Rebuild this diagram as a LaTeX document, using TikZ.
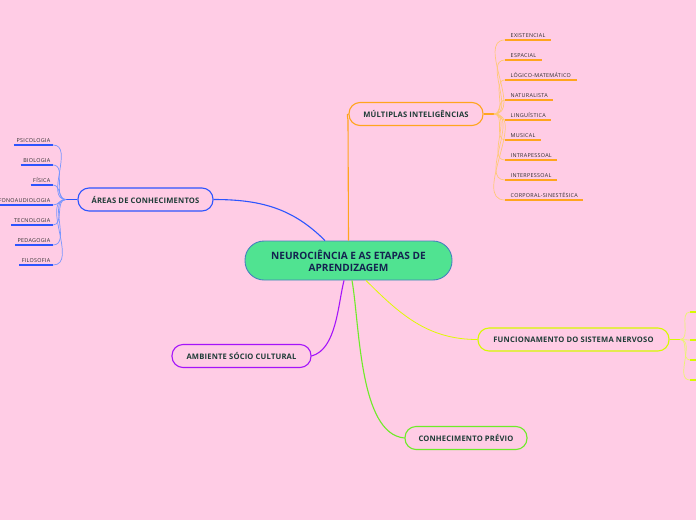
\documentclass[tikz,border=0pt]{standalone}
\usepackage{fontspec}
\setmainfont{Open Sans}
\newfontfamily\leaffont[LetterSpace=5.5]{Open Sans}
\newfontfamily\topicfont[LetterSpace=2.5]{Open Sans}
\usetikzlibrary{positioning}
\definecolor{MapPink}{RGB}{255,204,229}
\definecolor{CoreGreen}{RGB}{80,227,145}
\definecolor{CoreEdge}{RGB}{70,130,190}
\definecolor{CoreInk}{RGB}{20,35,80}
\definecolor{TopicInk}{RGB}{30,60,55}
\definecolor{LeafInk}{RGB}{45,45,45}
\definecolor{AreaBlue}{RGB}{45,85,255}
\definecolor{AreaSoft}{RGB}{120,150,255}
\definecolor{MultOrange}{RGB}{255,165,30}
\definecolor{MultSoft}{RGB}{255,200,120}
\definecolor{NervLime}{RGB}{215,250,0}
\definecolor{NervSoft}{RGB}{235,245,110}
\definecolor{AmbPurple}{RGB}{165,20,250}
\definecolor{PrevGreen}{RGB}{110,235,40}

\tikzset{
  topic/.style={draw,line width=1.1pt,fill=MapPink,rounded corners=11pt,
    minimum height=23pt,inner sep=0pt,text=TopicInk,
    font=\topicfont\fontsize{7.6}{9}\selectfont\bfseries},
  leaf/.style={inner ysep=2.5pt,text=LeafInk,
    font=\leaffont\fontsize{5.4}{6}\selectfont},
  twig/.style={line width=0.7pt},
}

\begin{document}
\begin{tikzpicture}[x=1pt,y=-1pt]
  \useasboundingbox[fill=MapPink] (0,0) rectangle (696,520);
  \begin{scope}
    \clip (0,0) rectangle (696,520);

  % central idea
  \node[draw=CoreEdge,line width=0.9pt,fill=CoreGreen,rounded corners=19pt,
    minimum width=207pt,minimum height=39pt,inner sep=0pt,align=center,
    text=CoreInk,font=\fontsize{10.1}{12}\selectfont\bfseries]
    (core) at (348.5,260.5) {NEUROCIÊNCIA E AS ETAPAS DE\\APRENDIZAGEM};

  % main topics
  \node[topic,draw=AreaBlue,minimum width=135pt] (areas) at (145.5,199.5) {ÁREAS DE CONHECIMENTOS};
  \node[topic,draw=MultOrange,minimum width=134pt] (mult) at (416,114) {MÚLTIPLAS INTELIGÊNCIAS};
  \node[topic,draw=NervLime,minimum width=191pt] (nerv) at (573.5,339.5) {FUNCIONAMENTO DO SISTEMA NERVOSO};
  \node[topic,draw=AmbPurple,minimum width=139pt] (amb) at (241.5,356) {AMBIENTE SÓCIO CULTURAL};
  \node[topic,draw=PrevGreen,minimum width=122pt] (prev) at (466,438) {CONHECIMENTO PRÉVIO};

  % links from the centre (start on the border of core)
  \coordinate (coreA) at (core.north -| 325,0);
  \coordinate (coreM) at (core.north);
  \coordinate (coreN) at (core.south -| 366,0);
  \coordinate (coreB) at (core.south -| 344,0);
  \coordinate (coreP) at (core.south -| 352,0);
  \draw[AreaBlue,line width=1.1pt] (coreA) to[out=135,in=0] (areas.east);
  \draw[MultOrange,line width=1.1pt] (coreM) -- (348,120) to[out=90,in=180] (mult.west);
  \draw[NervLime!80!yellow,line width=0.8pt] (coreN) to[out=-45,in=180] (nerv.west);
  \draw[AmbPurple,line width=1.1pt] (coreB) to[out=-104,in=15,looseness=0.8] (amb.east);
  \draw[PrevGreen,line width=1.1pt] (coreP) to[out=-80,in=175,looseness=0.7] (prev.west);

  % areas de conhecimento
  \coordinate (areajoin) at (66,199.5);
  \draw[AreaBlue,line width=1.4pt] (areas.west) -- (areajoin);
  \foreach \i/\t in {0/PSICOLOGIA,1/BIOLOGIA,2/FÍSICA,3/FONOAUDIOLOGIA,
      4/TECNOLOGIA,5/PEDAGOGIA,6/FILOSOFIA}{
    \node[leaf,inner xsep=2.5pt,anchor=south east] (area\i) at (53,145+20*\i) {\t};
    \draw[twig,AreaSoft] (areajoin) to[out=180,in=0] (area\i.south east);
    \draw[AreaBlue,line width=1.3pt] (area\i.south west) -- (area\i.south east);
  }

  % multiplas inteligencias
  \coordinate (multjoin) at (494,114);
  \draw[MultOrange,line width=1.4pt] (mult.east) -- (multjoin);
  \foreach \i/\t in {0/EXISTENCIAL,1/ESPACIAL,2/LÓGICO-MATEMÁTICO,3/NATURALISTA,
      4/LINGUÍSTICA,5/MUSICAL,6/INTRAPESSOAL,7/INTERPESSOAL,8/CORPORAL-SINESTÉSICA}{
    \node[leaf,inner xsep=5.5pt,anchor=south west] (mult\i) at (505,40+20*\i) {\t};
    \draw[twig,MultSoft] (multjoin) to[out=0,in=180] (mult\i.south west);
    \draw[MultOrange,line width=1.3pt] (mult\i.south west) -- (mult\i.south east);
  }

  % sistema nervoso (ramos cortados na borda)
  \coordinate (nervjoin) at (680,339.5);
  \draw[NervLime,line width=1.4pt] (nerv.east) -- (nervjoin);
  \foreach \y in {312,340,360,380}{
    \coordinate (nervend) at (690,\y);
    \draw[twig,NervSoft] (nervjoin) to[out=0,in=180] (nervend);
    \draw[NervLime,line width=1.3pt] (nervend) -- ++(12,0);
  }
  \end{scope}
\end{tikzpicture}
\end{document}
